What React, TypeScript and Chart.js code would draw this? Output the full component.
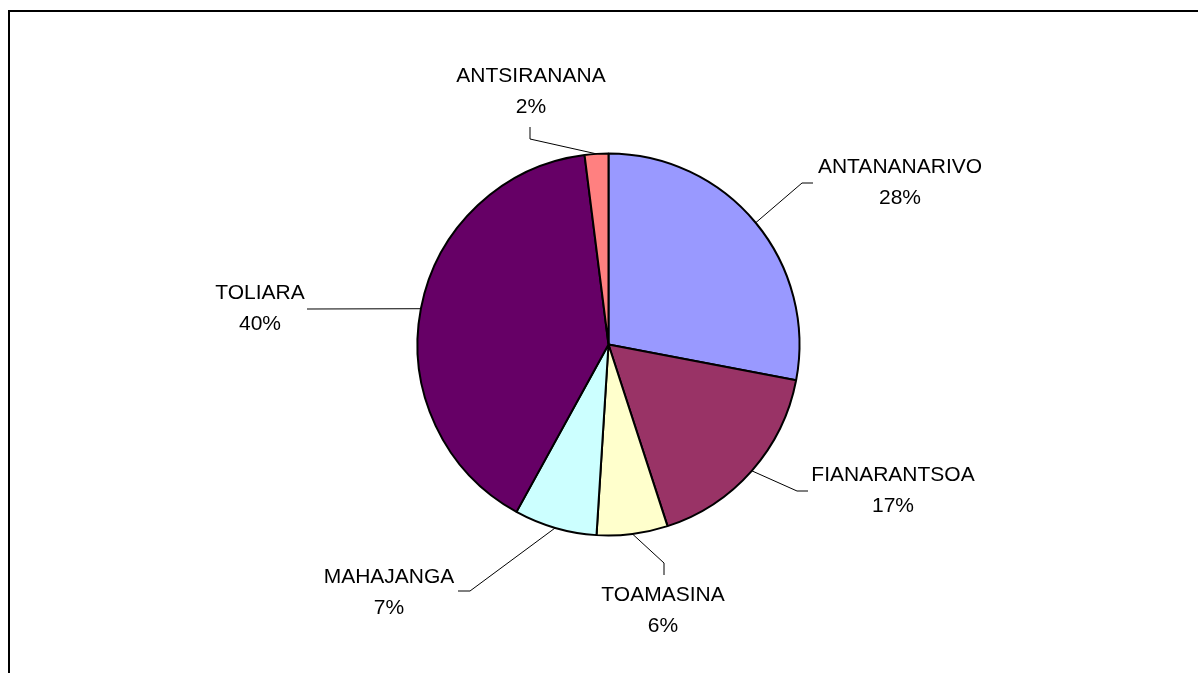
import React, { useEffect, useRef } from "react";
import { Chart, registerables } from "chart.js";

Chart.register(...registerables);

const categories = ["ANTANANARIVO", "FIANARANTSOA", "TOAMASINA", "MAHAJANGA", "TOLIARA", "ANTSIRANANA"];
const shares = [28, 17, 6, 7, 40, 2];
const percentLabels = ["28%", "17%", "6%", "7%", "40%", "2%"];
const sliceColors = ["#9999FF", "#993366", "#FFFFCC", "#CCFFFF", "#660066", "#FF8080"];

// Label layout, relative to the pie centre: leader elbow, leader tail end, text centre
const labelLayout = [
  { elbow: [193.5, -161.5], tail: [204.5, -161.5], text: [291.5, -179.5] },
  { elbow: [188.5, 146.5], tail: [199.5, 146.5], text: [284.5, 128.5] },
  { elbow: [55.5, 218.5], tail: [55.5, 230.5], text: [54.5, 248.5] },
  { elbow: [-138.5, 246.5], tail: [-150.5, 246.5], text: [-219.5, 230.5] },
  { elbow: [-301.5, -35.5], tail: [-301.5, -35.5], text: [-348.5, -53.5] },
  { elbow: [-78.5, -205.5], tail: [-78.5, -217.5], text: [-77.5, -270.5] },
];
const LINE_GAP = 31;

const labelPlugin = {
  id: "pieLabels",
  afterDatasetsDraw(chart: any) {
    const meta = chart.getDatasetMeta(0);
    const ctx = chart.ctx;
    ctx.save();
    meta.data.forEach((arc: any, i: number) => {
      const { x, y, startAngle, endAngle, outerRadius } = arc.getProps(
        ["x", "y", "startAngle", "endAngle", "outerRadius"],
        true
      );
      const mid = (startAngle + endAngle) / 2;
      const ex = x + Math.cos(mid) * outerRadius;
      const ey = y + Math.sin(mid) * outerRadius;
      const L = labelLayout[i];
      ctx.strokeStyle = "#000";
      ctx.lineWidth = 1;
      ctx.beginPath();
      ctx.moveTo(ex, ey);
      ctx.lineTo(x + L.elbow[0], y + L.elbow[1]);
      ctx.lineTo(x + L.tail[0], y + L.tail[1]);
      ctx.stroke();
      ctx.fillStyle = "#000";
      ctx.font = '21px "Liberation Sans", Arial, sans-serif';
      ctx.textAlign = "center";
      ctx.textBaseline = "alphabetic";
      const tx = x + L.text[0];
      const ty = y + L.text[1];
      ctx.fillText(categories[i], tx, ty + 7.5);
      ctx.fillText(percentLabels[i], tx, ty + LINE_GAP + 7.5);
    });
    ctx.restore();
  },
};

export default function App() {
  const canvasRef = useRef<HTMLCanvasElement | null>(null);

  useEffect(() => {
    if (!canvasRef.current) return;
    const chart = new Chart(canvasRef.current, {
      type: "pie",
      data: {
        labels: categories,
        datasets: [
          {
            data: shares,
            backgroundColor: sliceColors,
            borderColor: "#000",
            borderWidth: 2,
          },
        ],
      },
      options: {
        responsive: false,
        animation: false,
        devicePixelRatio: 1,
        layout: { padding: { left: 416.5, right: 397.5, top: 152.5, bottom: 136.5 } },
        plugins: {
          legend: { display: false },
          tooltip: { enabled: false },
        },
      },
      plugins: [labelPlugin],
    });
    return () => chart.destroy();
  }, []);

  return (
    <div style={{ position: "absolute", left: 0, top: 0, width: 1198, height: 673, overflow: "hidden", background: "#fff" }}>
      <canvas ref={canvasRef} width={1198} height={673} style={{ position: "absolute", left: 0, top: 0 }} />
      <div
        style={{
          position: "absolute",
          left: 8,
          top: 10,
          width: 1300,
          height: 800,
          borderTop: "2px solid #000",
          borderLeft: "2px solid #000",
          pointerEvents: "none",
        }}
      />
    </div>
  );
}
